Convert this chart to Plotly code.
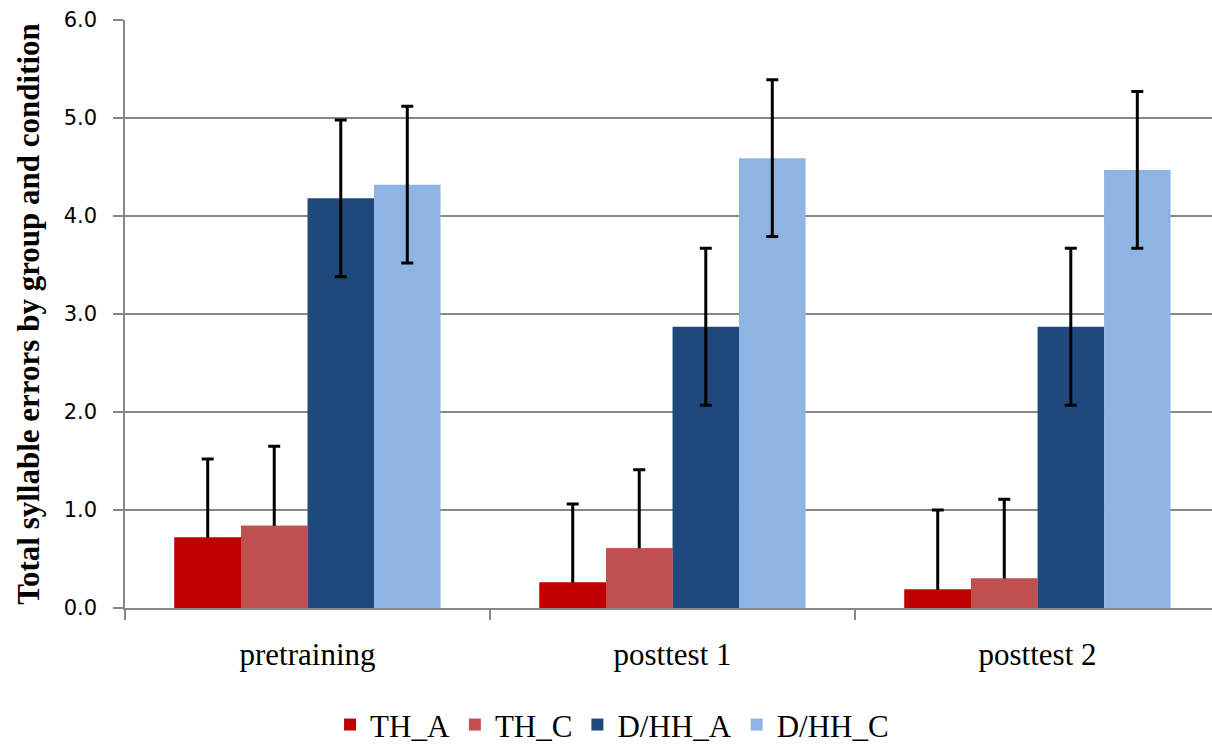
import plotly.graph_objects as go

categories = ["pretraining", "posttest 1", "posttest 2"]
series_names = ["TH_A", "TH_C", "D/HH_A", "D/HH_C"]
th_a = [0.72, 0.26, 0.19]
th_c = [0.84, 0.61, 0.30]
dhh_a = [4.18, 2.87, 2.87]
dhh_c = [4.32, 4.59, 4.47]
err_th_a = [0.80, 0.80, 0.81]
err_th_c = [0.81, 0.80, 0.81]
err_dhh_a = [0.80, 0.80, 0.80]
err_dhh_c = [0.80, 0.80, 0.80]
y_ticks = [0, 1, 2, 3, 4, 5, 6]

colors = ["#C00000", "#C0504D", "#1F497D", "#8DB4E2"]
values = [th_a, th_c, dhh_a, dhh_c]
errs = [err_th_a, err_th_c, err_dhh_a, err_dhh_c]
plus_only = [True, True, False, False]
groups = ["g0", "g1", "g2", "g3"]

fig = go.Figure()
for name, vals, err, col, po, grp in zip(series_names, values, errs, colors, plus_only, groups):
    fig.add_trace(go.Bar(
        x=categories, y=vals, name=name, offsetgroup=grp,
        marker=dict(color=col, line=dict(width=0)),
        error_y=dict(type="data", array=err,
                     arrayminus=vals if po else err,
                     symmetric=False, color="black", thickness=3, width=6),
    ))
# plus-only error bars: cover the lower part of the stem with the same bar
for name, vals, col, po, grp in zip(series_names, values, colors, plus_only, groups):
    if po:
        fig.add_trace(go.Bar(
            x=categories, y=vals, name=name, offsetgroup=grp, showlegend=False,
            hoverinfo="skip", marker=dict(color=col, line=dict(width=0)),
        ))

grid = "#878787"
fig.update_layout(
    width=1212, height=745,
    margin=dict(l=125, r=0, t=20, b=137),
    paper_bgcolor="white", plot_bgcolor="white",
    barmode="group", bargap=0.271, bargroupgap=0,
    font=dict(family="Liberation Serif", color="black"),
    legend=dict(orientation="h", xref="container", yref="container",
                x=0.505, xanchor="center", y=0.027, yanchor="middle",
                font=dict(family="Liberation Serif", size=31, color="black")),
    xaxis=dict(range=[-0.5, 2.478], showline=True, linecolor=grid, linewidth=1.5,
               ticks="outside", tickson="boundaries", ticklen=10, tickcolor=grid,
               tickwidth=1.5, showgrid=False, automargin=False,
               ticklabelstandoff=18,
               tickfont=dict(family="Liberation Serif", size=31, color="black")),
    yaxis=dict(range=[0, 6], tickvals=y_ticks, tickformat=".1f",
               showline=True, linecolor=grid, linewidth=1.5,
               ticks="outside", ticklen=10, tickcolor=grid, tickwidth=1.5,
               showgrid=True, gridcolor=grid, gridwidth=1.5, zeroline=False,
               automargin=False, ticklabelstandoff=12,
               tickfont=dict(family="DejaVu Sans", size=21, color="black"),
               title=dict(text="<b>Total syllable errors by group and condition</b>",
                          font=dict(family="Liberation Serif", size=31, color="black"),
                          standoff=15)),
)

fig.write_html("out.html", config={"displayModeBar": False},
               post_script="document.body.style.margin='0';document.body.style.overflow='hidden';")
